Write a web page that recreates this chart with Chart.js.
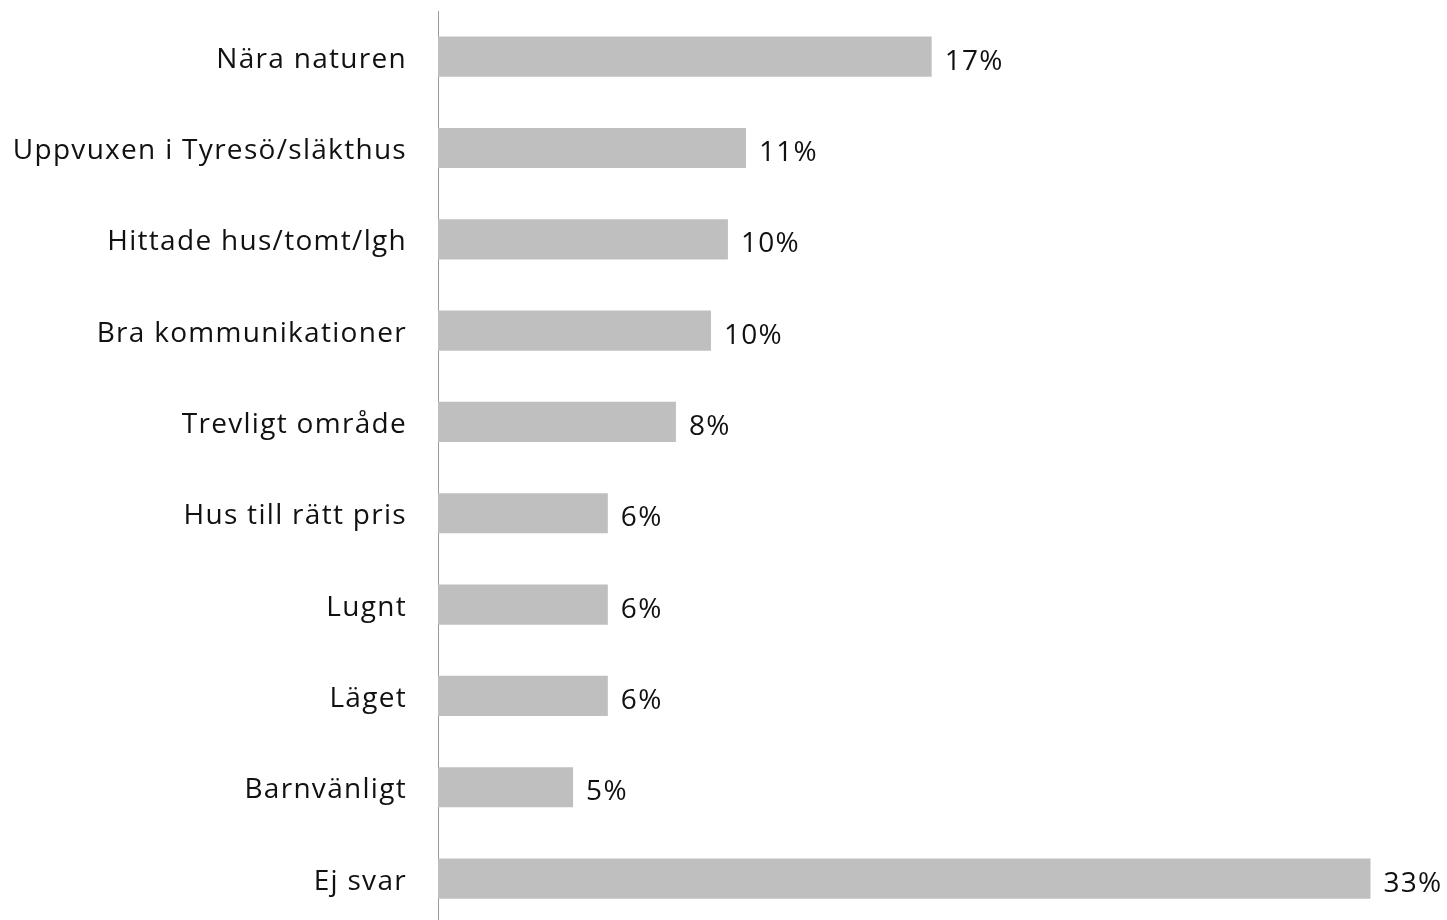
<!DOCTYPE html>
<html>
<head>
<meta charset="utf-8">
<script src="https://cdn.jsdelivr.net/npm/chart.js@4"></script>
<style>
  html, body { margin: 0; padding: 0; background: #fff; overflow: hidden; }
  #wrap { width: 1447px; height: 927px; }
</style>
</head>
<body>
<div id="wrap"><canvas id="myChart"></canvas></div>
<script>
// Kategorier och värden (procent)
const kategorier = ['Nära naturen', 'Uppvuxen i Tyresö/släkthus', 'Hittade hus/tomt/lgh', 'Bra kommunikationer',
  'Trevligt område', 'Hus till rätt pris', 'Lugnt', 'Läget', 'Barnvänligt', 'Ej svar'];
const andelar = [17.47, 10.9, 10.26, 9.66, 8.42, 6.01, 6.01, 6.01, 4.78, 33.0];

const fontFamily = "'Open Sans', 'Noto Sans', sans-serif";

// Lite bredare teckenavstånd, som i originalet
const sparring = {
  id: 'sparring',
  beforeDraw(chart) {
    chart.ctx.letterSpacing = '1.3px';
  }
};

// Skriv procentsatsen efter varje stapel
const etiketter = {
  id: 'etiketter',
  afterDatasetsDraw(chart) {
    const ctx = chart.ctx;
    const meta = chart.getDatasetMeta(0);
    ctx.save();
    ctx.font = '500 28px ' + fontFamily;
    ctx.fillStyle = '#111';
    ctx.textAlign = 'left';
    ctx.textBaseline = 'middle';
    meta.data.forEach((bar, i) => {
      ctx.fillText(andelar[i].toFixed(0) + '%', bar.x + 13, bar.y + 5);
    });
    ctx.restore();
  }
};

new Chart(document.getElementById('myChart'), {
  type: 'bar',
  data: {
    labels: kategorier,
    datasets: [{
      data: andelar,
      backgroundColor: '#bfbfbf',
      borderWidth: 0,
      barPercentage: 0.44,
      categoryPercentage: 1.0
    }]
  },
  options: {
    indexAxis: 'y',
    responsive: true,
    maintainAspectRatio: false,
    animation: false,
    layout: { padding: { top: 11, right: 20, left: 0, bottom: 0 } },
    scales: {
      x: {
        display: false,
        min: 0,
        max: 35
      },
      y: {
        afterFit: function(scale) { scale.width = 438; },
        grid: { display: false, drawTicks: true, tickLength: 31, tickColor: 'rgba(0,0,0,0)' },
        border: { display: true, color: '#9a9a9a', width: 1 },
        ticks: {
          padding: 0,
          labelOffset: 3,
          color: '#111',
          font: { size: 28, family: fontFamily, weight: 500, lineHeight: 0.2 }
        }
      }
    },
    plugins: {
      legend: { display: false },
      tooltip: { enabled: false }
    }
  },
  plugins: [sparring, etiketter]
});
</script>
</body>
</html>
